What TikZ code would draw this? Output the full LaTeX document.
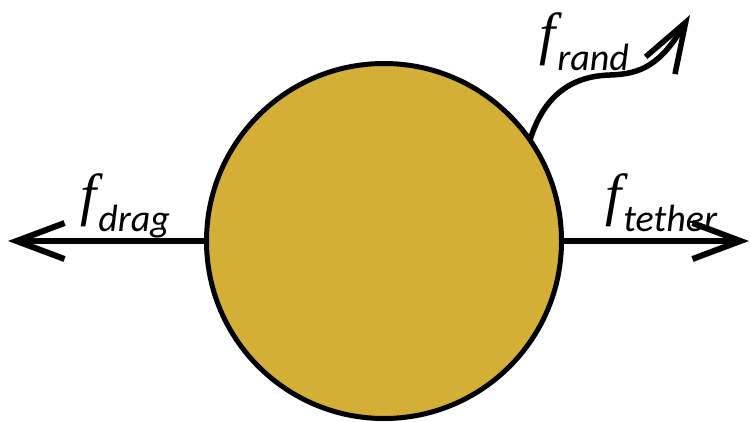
\documentclass[tikz,border=0pt]{standalone}
\usepackage{fontspec}
\setmainfont{Carlito}
\newfontfamily\fglyph{Liberation Serif}
\usetikzlibrary{arrows.meta}
\definecolor{gold}{RGB}{211,175,56}
\newcommand{\flabel}[1]{{\fontsize{58}{58}\selectfont\fglyph\itshape f}\kern2pt\raisebox{-17pt}{\fontsize{38}{38}\selectfont\itshape #1}}
\tikzset{
  force/.style={line width=6pt, -{Straight Barb[length=48pt,width=36pt,line width=6pt]}},
  lbl/.style={anchor=base west, inner sep=0pt, text=black}
}
\begin{document}
\begin{tikzpicture}[x=1pt,y=-1pt]
\useasboundingbox (0,0) rectangle (751,421);
\coordinate (tipL) at (8,241);
\coordinate (tipR) at (749,241);
\coordinate (tipW) at (690,15);
\draw[force] (384,241) -- (tipL);
\draw[force] (384,241) -- (tipR);
\draw[line width=5.5pt, -{Straight Barb[length=50pt,width=34pt,line width=5.5pt]}]
  (530,140) .. controls (545,92) and (575,76) .. (610,75)
  .. controls (640,74) and (660,66) .. (tipW);
\node[circle, draw, fill=gold, line width=5pt, minimum size=355pt, inner sep=0pt] (ball) at (384,241) {};
\node[lbl] (ldrag) at (80,214) {\flabel{drag}};
\node[lbl] (lrand) at (539,53) {\flabel{rand}};
\node[lbl] (ltether) at (605,214) {\flabel{tether}};
\end{tikzpicture}
\end{document}
